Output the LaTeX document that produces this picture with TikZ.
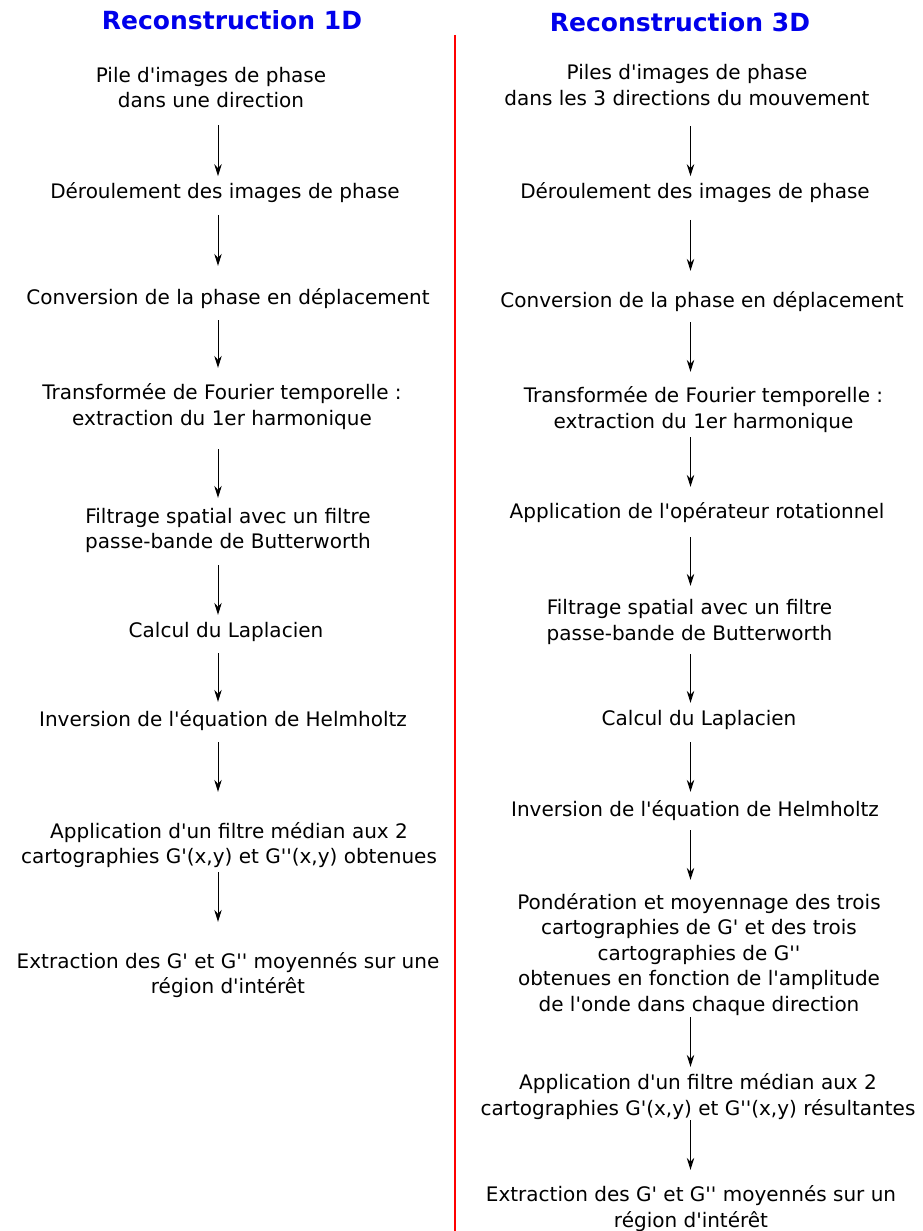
\documentclass[tikz,border=0pt]{standalone}
\usepackage{fontspec}
\setmainfont{DejaVu Sans}[Ligatures=TeXOff]
\usetikzlibrary{arrows.meta}
\newlength{\du}
\setlength{\du}{1pt}
\definecolor{titlecolor}{rgb}{0.000000, 0.000000, 0.920000}
\definecolor{sepcolor}{rgb}{1.000000, 0.000000, 0.000000}
\tikzset{
  steptext/.style={anchor=center, align=center, inner sep=0pt, font=\fontsize{20}{25.5}\selectfont},
  titletext/.style={anchor=center, inner sep=0pt, text=titlecolor, font=\fontsize{25}{30}\selectfont\bfseries},
  flow/.style={-{Stealth[length=12pt,width=7.5pt,inset=4pt]}, line width=1\du, draw=black},
  seprule/.style={draw=sepcolor, line width=2\du}
}

\begin{document}
\begin{tikzpicture}
\pgftransformxscale{1.000000}
\pgftransformyscale{-1.000000}
\useasboundingbox (0\du,0\du) rectangle (922\du,1231\du);
\coordinate (axL) at (218.000000\du,0.000000\du);
\coordinate (axR) at (690.500000\du,0.000000\du);
% separation rule
\coordinate (sepTop) at (455.000000\du,35.000000\du);
\coordinate (sepBot) at (455.000000\du,1231.000000\du);
\draw[seprule] (sepTop) -- (sepBot);
% setfont left to latex
\node[titletext] (t1d) at (232.000000\du,19.700000\du){Reconstruction 1D};
\node[titletext] (t3d) at (680.000000\du,21.700000\du){Reconstruction 3D};
% left column
\node[steptext] (l1) at (211.000000\du,87.450000\du){Pile d'images de phase\\dans une direction};
\node[steptext] (l2) at (225.000000\du,192.100000\du){Déroulement des images de phase};
\node[steptext] (l3) at (228.000000\du,298.400000\du){Conversion de la phase en déplacement};
\node[steptext] (l4) at (222.000000\du,406.650000\du){Transformée de Fourier temporelle :\\extraction du 1er harmonique};
\node[steptext] (l5) at (228.000000\du,530.550000\du){Filtrage spatial avec un filtre\\passe-bande de Butterworth};
\node[steptext] (l6) at (226.000000\du,631.800000\du){Calcul du Laplacien};
\node[steptext] (l7) at (223.000000\du,720.900000\du){Inversion de l'équation de Helmholtz};
\node[steptext] (l8) at (229.000000\du,845.150000\du){Application d'un filtre médian aux 2\\cartographies G'(x,y) et G''(x,y) obtenues};
\node[steptext] (l9) at (228.000000\du,975.150000\du){Extraction des G' et G'' moyennés sur une\\région d'intérêt};
\draw[flow, shorten <=17.2\du, shorten >=5.7\du] (l1.south -| axL) -- (l2.north -| axL);
\draw[flow, shorten <=12.5\du, shorten >=22.3\du] (l2.south -| axL) -- (l3.north -| axL);
\draw[flow, shorten <=11.5\du, shorten >=15.8\du] (l3.south -| axL) -- (l4.north -| axL);
\draw[flow, shorten <=19.5\du, shorten >=10.1\du] (l4.south -| axL) -- (l5.north -| axL);
\draw[flow, shorten <=12.0\du, shorten >=7.1\du] (l5.south -| axL) -- (l6.north -| axL);
\draw[flow, shorten <=11.5\du, shorten >=8.8\du] (l6.south -| axL) -- (l7.north -| axL);
\draw[flow, shorten <=11.0\du, shorten >=30.3\du] (l7.south -| axL) -- (l8.north -| axL);
\draw[flow, shorten <=4.0\du, shorten >=30.3\du] (l8.south -| axL) -- (l9.north -| axL);
% right column
\node[steptext] (r1) at (687.000000\du,84.950000\du){Piles d'images de phase\\dans les 3 directions du mouvement};
\node[steptext] (r2) at (695.000000\du,192.600000\du){Déroulement des images de phase};
\node[steptext] (r3) at (702.000000\du,301.900000\du){Conversion de la phase en déplacement};
\node[steptext] (r4) at (703.500000\du,409.650000\du){Transformée de Fourier temporelle :\\extraction du 1er harmonique};
\node[steptext] (r5) at (697.000000\du,512.400000\du){Application de l'opérateur rotationnel};
\node[steptext] (r6) at (689.500000\du,622.050000\du){Filtrage spatial avec un filtre\\passe-bande de Butterworth};
\node[steptext] (r7) at (699.000000\du,720.300000\du){Calcul du Laplacien};
\node[steptext] (r8) at (695.000000\du,810.900000\du){Inversion de l'équation de Helmholtz};
\node[steptext] (r9) at (699.000000\du,954.400000\du){Pondération et moyennage des trois\\cartographies de G' et des trois\\cartographies de G''\\obtenues en fonction de l'amplitude\\de l'onde dans chaque direction};
\node[steptext] (r10) at (698.000000\du,1096.650000\du){Application d'un filtre médian aux 2\\cartographies G'(x,y) et G''(x,y) résultantes};
\node[steptext] (r11) at (691.000000\du,1208.650000\du){Extraction des G' et G'' moyennés sur un\\région d'intérêt};
\draw[flow, shorten <=20.7\du, shorten >=6.2\du] (r1.south -| axR) -- (r2.north -| axR);
\draw[flow, shorten <=17.0\du, shorten >=20.8\du] (r2.south -| axR) -- (r3.north -| axR);
\draw[flow, shorten <=10.0\du, shorten >=14.8\du] (r3.south -| axR) -- (r4.north -| axR);
\draw[flow, shorten <=4.5\du, shorten >=15.3\du] (r4.south -| axR) -- (r5.north -| axR);
\draw[flow, shorten <=14.5\du, shorten >=13.6\du] (r5.south -| axR) -- (r6.north -| axR);
\draw[flow, shorten <=9.5\du, shorten >=7.6\du] (r6.south -| axR) -- (r7.north -| axR);
\draw[flow, shorten <=12.0\du, shorten >=8.8\du] (r7.south -| axR) -- (r8.north -| axR);
\draw[flow, shorten <=9.0\du, shorten >=13.3\du] (r8.south -| axR) -- (r9.north -| axR);
\draw[flow, shorten <=1.5\du, shorten >=6.8\du] (r9.south -| axR) -- (r10.north -| axR);
\draw[flow, shorten <=0.5\du, shorten >=15.8\du] (r10.south -| axR) -- (r11.north -| axR);
\end{tikzpicture}
\end{document}
